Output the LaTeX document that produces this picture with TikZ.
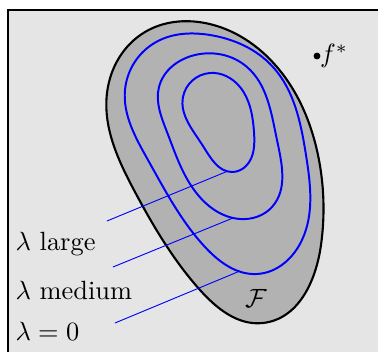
\documentclass[tikz,border=0pt]{standalone}
\usetikzlibrary{hobby}
\begin{document}
\begin{tikzpicture}[x=0.379pt,y=-0.379pt,
  outline/.style={draw=black,line width=0.8pt,fill=black!30},
  level/.style={draw=blue,line width=0.75pt},
  leader/.style={draw=blue,line width=0.35pt},
  lab/.style={anchor=west,inner sep=0pt},
  use Hobby shortcut]
\useasboundingbox (0,0) rectangle (378,352);
\fill[black!10] (8,10) rectangle (390,370);
\draw[line width=0.8pt] (8,370) -- (8,10) -- (390,10);
% feasible set
\draw[outline,closed=true] (107,93) .. (145,32) .. (205,23) .. (277,67) .. (318,155)
 .. (321,245) .. (263,323) .. (200,290) .. (135,192);
% level sets
\draw[level,closed=true] (125,90) .. (158,41) .. (210,35) .. (273,67) .. (306,155)
 .. (302,240) .. (257,274) .. (205,247) .. (148,160);
\draw[level,closed=true] (159,87) .. (195,55) .. (247,67) .. (277,140)
 .. (272,207) .. (240,219) .. (198,195) .. (167,132);
\draw[level,closed=true] (183,97) .. (210,73) .. (240,87) .. (254,132)
 .. (246,166) .. (232,172) .. (203,146);
% leaders
\coordinate (l1) at (228,171);
\coordinate (l2) at (233,218);
\coordinate (l3) at (240,271);
\coordinate (e1) at (107,221);
\coordinate (e2) at (113,267);
\coordinate (e3) at (115,323);
\draw[leader] (l1) -- (e1);
\draw[leader] (l2) -- (e2);
\draw[leader] (l3) -- (e3);
% labels
\node[lab] (t1) at (15,244) {$\lambda$ large};
\node[lab] (t2) at (15,290) {$\lambda$ medium};
\node[lab] (t3) at (15,331) {$\lambda=0$};
\node (F) at (256,298) {$\mathcal{F}$};
\fill (317,56) circle (1.3pt) coordinate (fstar);
\node[anchor=west,inner sep=1pt] (fl) at (fstar) {$f^*$};
\end{tikzpicture}
\end{document}
